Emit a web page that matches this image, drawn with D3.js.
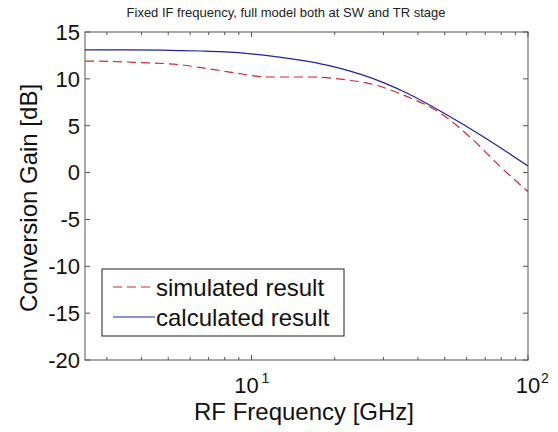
<!DOCTYPE html>
<html>
<head>
<meta charset="utf-8">
<script src="https://cdn.jsdelivr.net/npm/d3@7"></script>
<style>
  body { margin: 0; background: #fff; }
  text { font-family: Arial, "Liberation Sans", sans-serif; }
</style>
</head>
<body>
<div id="chart"></div>
<script>
// Values
const simFreq = [2.5, 2.59, 3.88, 5.56, 6.56, 8.63, 11.45, 16.4, 21.0, 27.6, 36.6, 48.2, 63.4, 79.4, 100];
const simGain = [11.9, 11.9, 11.75, 11.5, 11.2, 10.66, 10.2, 10.2, 9.97, 9.4, 8.1, 6.35, 3.47, 0.63, -2.04];
const calcFreq = [2.5, 3.5, 6.56, 7.74, 12.0, 19.8, 30, 36.6, 51, 68.9, 100];
const calcGain = [13.1, 13.1, 12.97, 12.9, 12.4, 11.3, 9.6, 8.46, 6.14, 3.83, 0.7];
const yTicks = [15, 10, 5, 0, -5, -10, -15, -20];
const xMajor = [10, 100];
const xMinor = [3, 4, 5, 6, 7, 8, 9, 20, 30, 40, 50, 60, 70, 80, 90];
const legendLabels = ["simulated result", "calculated result"];

const width = 558, height = 432;
const margin = { top: 32, right: 30, bottom: 72, left: 85 };

const svg = d3.select("#chart").append("svg")
  .attr("width", width)
  .attr("height", height);

const x = d3.scaleLog().domain([2.5, 100]).range([margin.left, width - margin.right]);
const y = d3.scaleLinear().domain([-20, 15]).range([height - margin.bottom, margin.top]);

const axisColor = "#555";
const textColor = "#111";

// Frame
svg.append("rect")
  .attr("x", margin.left).attr("y", margin.top)
  .attr("width", x(100) - x(2.5)).attr("height", y(-20) - y(15))
  .attr("fill", "none").attr("stroke", axisColor).attr("stroke-width", 1);

// Y ticks (inside, both sides)
const tickLen = 5;
svg.append("g").selectAll("line").data(yTicks).join("line")
  .attr("x1", margin.left).attr("x2", margin.left + tickLen)
  .attr("y1", d => y(d)).attr("y2", d => y(d))
  .attr("stroke", axisColor);
svg.append("g").selectAll("line").data(yTicks).join("line")
  .attr("x1", x(100)).attr("x2", x(100) - tickLen)
  .attr("y1", d => y(d)).attr("y2", d => y(d))
  .attr("stroke", axisColor);

// X ticks bottom + top
const allX = xMinor.map(d => ({ v: d, len: 3 })).concat(xMajor.map(d => ({ v: d, len: 5 })));
svg.append("g").selectAll("line").data(allX).join("line")
  .attr("x1", d => x(d.v)).attr("x2", d => x(d.v))
  .attr("y1", y(-20)).attr("y2", d => y(-20) - d.len)
  .attr("stroke", axisColor);
svg.append("g").selectAll("line").data(allX).join("line")
  .attr("x1", d => x(d.v)).attr("x2", d => x(d.v))
  .attr("y1", y(15)).attr("y2", d => y(15) + d.len)
  .attr("stroke", axisColor);

// Y tick labels
svg.append("g").selectAll("text").data(yTicks).join("text")
  .attr("x", margin.left - 5)
  .attr("y", d => y(d))
  .attr("dy", "0.36em")
  .attr("text-anchor", "end")
  .attr("font-size", 22)
  .attr("fill", textColor)
  .text(d => d);

// X tick labels 10^n
const xl = svg.append("g").selectAll("g").data(xMajor).join("g")
  .attr("transform", d => `translate(${x(d)},${y(-20)})`);
xl.append("text")
  .attr("x", d => d === 100 ? 0 : -5)
  .attr("y", 33)
  .attr("text-anchor", "middle")
  .attr("font-size", 22)
  .attr("fill", textColor)
  .text("10");
xl.append("text")
  .attr("x", d => d === 100 ? 13 : 10)
  .attr("y", 23)
  .attr("font-size", 14)
  .attr("fill", textColor)
  .text(d => Math.round(Math.log10(d)));

// Axis labels
svg.append("text")
  .attr("x", 304).attr("y", 420)
  .attr("text-anchor", "middle")
  .attr("font-size", 24)
  .attr("fill", textColor)
  .text("RF Frequency [GHz]");
svg.append("text")
  .attr("transform", `translate(37,${(y(15) + y(-20)) / 2 + 2}) rotate(-90)`)
  .attr("text-anchor", "middle")
  .attr("font-size", 24)
  .attr("fill", textColor)
  .text("Conversion Gain [dB]");

// Title
svg.append("text")
  .attr("x", 286).attr("y", 17)
  .attr("text-anchor", "middle")
  .attr("font-size", 13)
  .attr("fill", "#222")
  .text("Fixed IF frequency, full model both at SW and TR stage");

// Lines
const line = d3.line().curve(d3.curveMonotoneX).x(d => x(d[0])).y(d => y(d[1]));
const simColor = "#cc2a3a", calcColor = "#22229a";

svg.append("path")
  .datum(calcFreq.map((f, i) => [f, calcGain[i]]))
  .attr("d", line)
  .attr("fill", "none")
  .attr("stroke", calcColor)
  .attr("stroke-width", 1.2);

svg.append("path")
  .datum(simFreq.map((f, i) => [f, simGain[i]]))
  .attr("d", line)
  .attr("fill", "none")
  .attr("stroke", simColor)
  .attr("stroke-width", 1.2)
  .attr("stroke-dasharray", "9,5");

// Legend
const lg = svg.append("g").attr("transform", "translate(102,269)");
lg.append("rect")
  .attr("width", 242).attr("height", 67)
  .attr("fill", "#fff").attr("stroke", "#222");
const legendItems = [
  { label: legendLabels[0], color: simColor, dash: "9,5" },
  { label: legendLabels[1], color: calcColor, dash: null }
];
const li = lg.selectAll("g").data(legendItems).join("g")
  .attr("transform", (d, i) => `translate(0,${18 + i * 30})`);
li.append("line")
  .attr("x1", 11).attr("x2", 53)
  .attr("stroke", d => d.color)
  .attr("stroke-width", 1.2)
  .attr("stroke-dasharray", d => d.dash);
li.append("text")
  .attr("x", 54).attr("dy", "0.36em")
  .attr("font-size", 24)
  .attr("fill", textColor)
  .text(d => d.label);
</script>
</body>
</html>
